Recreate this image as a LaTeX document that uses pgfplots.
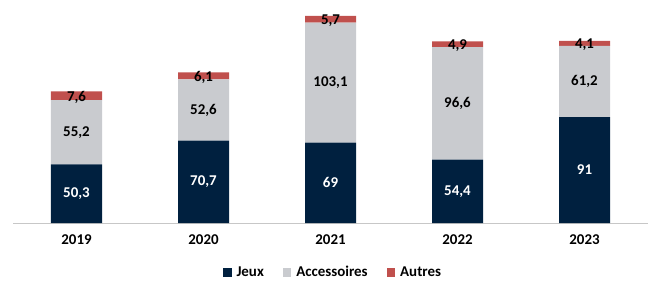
\documentclass[border=0pt]{standalone}
\usepackage{pgfplots}
\pgfplotsset{compat=1.18}
\usepackage{pgfplotstable}
\usepackage{fontspec}
\setmainfont{Carlito}
\definecolor{jeux}{RGB}{0,32,63}
\definecolor{acc}{RGB}{201,203,207}
\definecolor{aut}{RGB}{192,80,77}
\pgfplotstableread{
x jeux acc aut
0 50.3 55.2 7.6
1 70.7 52.6 6.1
2 69 103.1 5.7
3 54.4 96.6 4.9
4 91 61.2 4.1
}\data
\newcommand{\lblfont}{\bfseries\fontsize{15}{18}\selectfont}
\begin{document}
\begin{tikzpicture}
\useasboundingbox (0,0) rectangle (648bp,282bp);
\begin{axis}[
  at={(13bp,59bp)}, anchor=south west,
  scale only axis, width=635bp, height=223bp,
  ybar stacked, bar width=51bp,
  xmin=-0.5, xmax=4.5, ymin=0, ymax=191.5,
  enlargelimits=false, clip=false,
  axis y line=none, axis x line=bottom,
  x axis line style={-, draw=black!22, line width=0.8bp},
  xtick={0,1,2,3,4}, xticklabels={2019,2020,2021,2022,2023},
  xtick style={draw=none},
  xticklabel style={font=\lblfont, yshift=-6bp},
  /pgf/number format/.cd, use comma, 1000 sep={}, assume math mode=true,
  /pgfplots/.cd,
  legend style={at={(axis description cs:0.504,-0.22)}, anchor=center, draw=none,
    legend columns=-1, font=\lblfont,
    /tikz/every odd column/.append style={column sep=3bp},
    /tikz/every even column/.append style={column sep=17bp}},
  legend image code/.code={\fill[#1] (0bp,-4.5bp) rectangle (8.5bp,4bp);},
]
\addplot[fill=jeux, draw=none,
  nodes near coords,
  every node near coord/.append style={text=white, font=\lblfont, anchor=center}
] table[x=x,y=jeux]{\data};
\addplot[fill=acc, draw=none,
  nodes near coords,
  every node near coord/.append style={text=black, font=\lblfont, anchor=center}
] table[x=x,y=acc]{\data};
\addplot[fill=aut, draw=none,
  nodes near coords,
  every node near coord/.append style={text=black, font=\lblfont, anchor=center, yshift=-1.5bp}
] table[x=x,y=aut]{\data};
\legend{Jeux, Accessoires, Autres}
\end{axis}
\end{tikzpicture}
\end{document}
